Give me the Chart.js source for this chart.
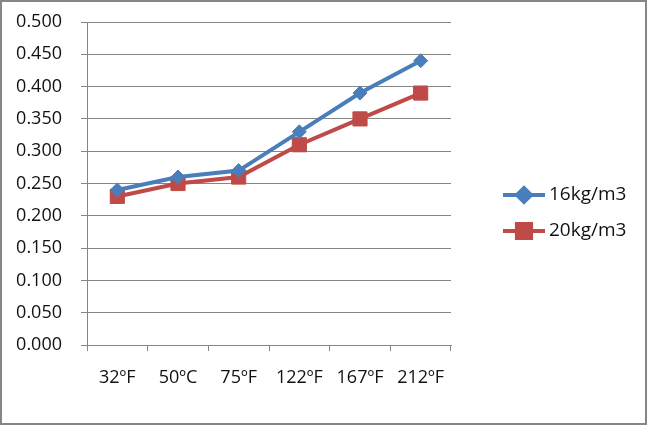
<!DOCTYPE html>
<html lang="en">
<head>
    <meta charset="UTF-8">
    <title>Density chart</title>
    <style>
        body {
            margin: 0;
            padding: 0;
            background-color: #fff;
        }

        .frame {
            width: 643px;
            height: 421px;
            border: 2px solid #868686;
        }

        canvas {
            display: block;
        }
    </style>
</head>
<body>

    <div class="frame">
        <canvas id="lineChart" width="643" height="421"></canvas>
    </div>

    <script src="https://cdn.jsdelivr.net/npm/chart.js"></script>
    <script>
        // Chart values
        const categories = ['32ºF', '50ºC', '75ºF', '122ºF', '167ºF', '212ºF'];
        const seriesNames = ['16kg/m3', '20kg/m3'];
        const values16 = [0.24, 0.26, 0.27, 0.33, 0.39, 0.44];
        const values20 = [0.23, 0.25, 0.26, 0.31, 0.35, 0.39];
        const yTicks = [0, 0.05, 0.1, 0.15, 0.2, 0.25, 0.3, 0.35, 0.4, 0.45, 0.5];

        const fontFamily = "'Open Sans', sans-serif";
        const gridColor = '#868686';

        // Legend on the right: line with a marker in the middle, then the label
        const sideLegend = {
            id: 'sideLegend',
            afterDraw(chart) {
                const ctx = chart.ctx;
                const startY = 193;
                const gap = 36;
                chart.data.datasets.forEach((ds, i) => {
                    const y = startY + i * gap;
                    ctx.save();
                    ctx.strokeStyle = ds.borderColor;
                    ctx.lineWidth = 4;
                    ctx.beginPath();
                    ctx.moveTo(501, y);
                    ctx.lineTo(543, y);
                    ctx.stroke();
                    ctx.fillStyle = ds.pointBackgroundColor;
                    ctx.strokeStyle = ds.pointBorderColor;
                    Chart.helpers.drawPoint(ctx, {
                        pointStyle: ds.pointStyle,
                        radius: ds.pointRadius,
                        rotation: 0,
                        borderWidth: 1
                    }, 522, y);
                    ctx.fillStyle = '#111';
                    ctx.font = '19px ' + fontFamily;
                    ctx.textBaseline = 'middle';
                    ctx.textAlign = 'left';
                    ctx.fillText(ds.label, 547, y);
                    ctx.restore();
                });
            }
        };

        const ctx = document.getElementById('lineChart').getContext('2d');
        const lineChart = new Chart(ctx, {
            type: 'line',
            data: {
                labels: categories,
                datasets: [{
                    label: seriesNames[0],
                    data: values16,
                    borderColor: '#4a7ebb',
                    backgroundColor: '#4a7ebb',
                    pointBackgroundColor: '#4a7ebb',
                    pointBorderColor: '#4a7ebb',
                    borderWidth: 4,
                    pointStyle: 'rectRot',
                    pointRadius: 7,
                    pointBorderWidth: 1,
                    tension: 0
                }, {
                    label: seriesNames[1],
                    data: values20,
                    borderColor: '#be4b48',
                    backgroundColor: '#be4b48',
                    pointBackgroundColor: '#be4b48',
                    pointBorderColor: '#be4b48',
                    borderWidth: 4,
                    pointStyle: 'rect',
                    pointRadius: 10,
                    pointBorderWidth: 1,
                    tension: 0
                }]
            },
            options: {
                responsive: false,
                animation: false,
                layout: {
                    padding: { top: 20, right: 194, left: 0, bottom: 0 }
                },
                plugins: {
                    legend: { display: false },
                    tooltip: { enabled: false }
                },
                scales: {
                    x: {
                        offset: true,
                        grid: {
                            offset: true,
                            drawOnChartArea: false,
                            drawTicks: true,
                            tickLength: 6,
                            color: gridColor
                        },
                        border: { color: gridColor },
                        ticks: {
                            color: '#111',
                            padding: 16,
                            maxRotation: 0,
                            font: { family: fontFamily, size: 18 }
                        },
                        afterFit: (scale) => {
                            scale.height = 78;
                            scale.paddingLeft = 0;
                            scale.paddingRight = 0;
                        }
                    },
                    y: {
                        min: 0,
                        max: 0.5,
                        afterBuildTicks: (scale) => {
                            scale.ticks = yTicks.map(v => ({ value: v }));
                        },
                        grid: {
                            color: gridColor,
                            tickLength: 6
                        },
                        border: { color: gridColor },
                        ticks: {
                            color: '#111',
                            padding: 19,
                            font: { family: fontFamily, size: 18 },
                            callback: (v) => Number(v).toFixed(3)
                        },
                        afterFit: (scale) => {
                            scale.width = 85;
                            scale.paddingTop = 0;
                            scale.paddingBottom = 0;
                        }
                    }
                }
            },
            plugins: [sideLegend]
        });
    </script>

</body>
</html>
